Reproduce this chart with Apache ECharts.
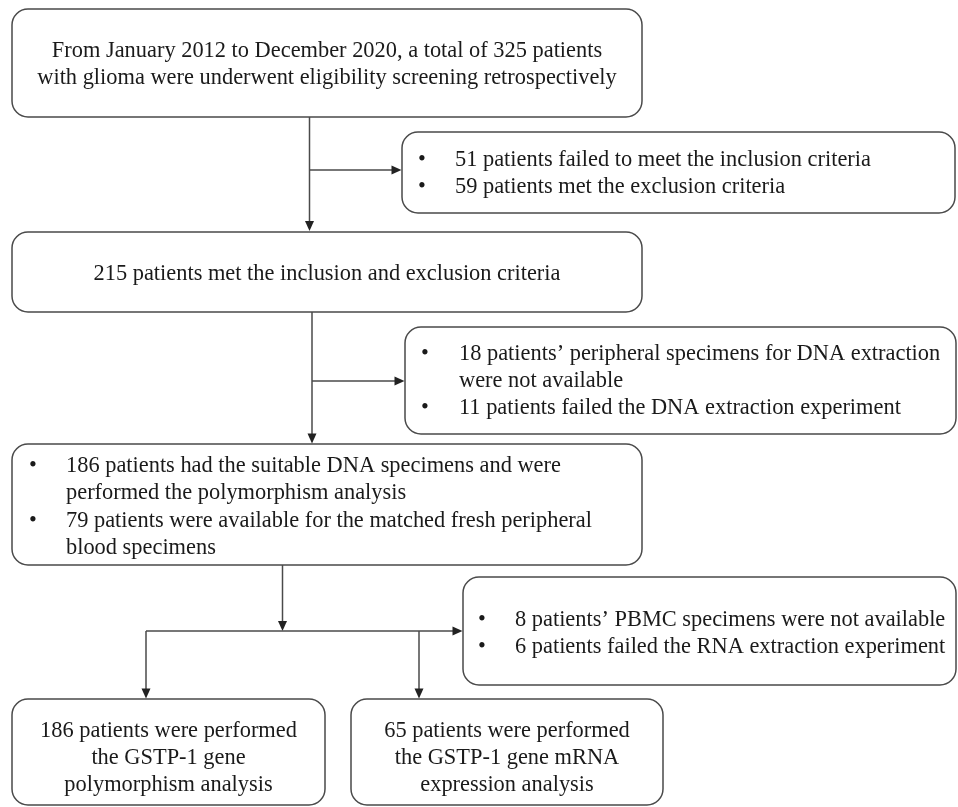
<!DOCTYPE html>
<html>
<head>
<meta charset="utf-8">
<script src="https://cdn.jsdelivr.net/npm/echarts@6/dist/echarts.min.js"></script>
<style>
html,body{margin:0;padding:0;background:#fff;}
#chart{width:958px;height:807px;}
</style>
</head>
<body>
<div id="chart"></div>
<script>
// ---- text content (data) ----
var screeningLines = [
  'From January 2012 to December 2020, a total of 325 patients',
  'with glioma were underwent eligibility screening retrospectively'
];
var exclusion1Bullets = [
  ['51 patients failed to meet the inclusion criteria'],
  ['59 patients met the exclusion criteria']
];
var eligibleLines = ['215 patients met the inclusion and exclusion criteria'];
var exclusion2Bullets = [
  ['18 patients\u2019 peripheral specimens for DNA extraction', 'were not available'],
  ['11 patients failed the DNA extraction experiment']
];
var dnaBullets = [
  ['186 patients had the suitable DNA specimens and were', 'performed the polymorphism analysis'],
  ['79 patients were available for the matched fresh peripheral', 'blood specimens']
];
var exclusion3Bullets = [
  ['8 patients\u2019 PBMC specimens were not available'],
  ['6 patients failed the RNA extraction experiment']
];
var polyLines = ['186 patients were performed', 'the GSTP-1 gene', 'polymorphism analysis'];
var mrnaLines = ['65 patients were performed', 'the GSTP-1 gene mRNA', 'expression analysis'];

// ---- layout ----
var FONT = '22.4px "Liberation Serif", "Times New Roman", serif';
var TEXT_COLOR = '#1a1a1a';
var LINE_COLOR = '#4a4a4a';
var LW = 1.5;
var R = 16;
var LINE_H = 27;

var els = [];

function box(x0, y0, x1, y1) {
  els.push({
    type: 'rect',
    shape: {x: x0, y: y0, width: x1 - x0, height: y1 - y0, r: R},
    style: {fill: '#fff', stroke: LINE_COLOR, lineWidth: LW},
    z: 1
  });
}
function txt(s, x, y, align) {
  els.push({
    type: 'text',
    x: x, y: y,
    style: {
      text: s, font: FONT, fill: TEXT_COLOR,
      align: align || 'left', verticalAlign: 'middle',
      textAlign: align || 'left', textVerticalAlign: 'middle'
    },
    z: 3
  });
}
function centered(lines, cx, y0) {
  lines.forEach(function (s, i) { txt(s, cx, y0 + i * LINE_H, 'center'); });
}
function bullets(groups, bx, tx, y0, step) {
  var y = y0;
  groups.forEach(function (g) {
    txt('\u2022', bx, y, 'center');
    g.forEach(function (s) { txt(s, tx, y, 'left'); y += step; });
  });
}
function seg(x1, y1, x2, y2) {
  els.push({
    type: 'line',
    shape: {x1: x1, y1: y1, x2: x2, y2: y2},
    style: {stroke: LINE_COLOR, lineWidth: LW},
    z: 2
  });
}
function arrowDown(x, tipY) {
  els.push({
    type: 'polygon',
    shape: {points: [[x - 4.5, tipY - 10], [x + 4.5, tipY - 10], [x, tipY]]},
    style: {fill: '#222'},
    z: 2
  });
}
function arrowRight(tipX, y) {
  els.push({
    type: 'polygon',
    shape: {points: [[tipX - 10, y - 4.5], [tipX - 10, y + 4.5], [tipX, y]]},
    style: {fill: '#222'},
    z: 2
  });
}

// boxes
box(12, 9, 642, 117);     // screening
box(402, 132, 955, 213);  // exclusion 1
box(12, 232, 642, 312);   // eligible
box(405, 327, 956, 434);  // exclusion 2
box(12, 444, 642, 565);   // DNA
box(463, 577, 956, 685);  // exclusion 3
box(12, 699, 325, 805);   // polymorphism
box(351, 699, 663, 805);  // mRNA

// connectors
seg(309.5, 117, 309.5, 228); arrowDown(309.5, 231);
seg(309.5, 170, 392, 170); arrowRight(401.5, 170);
seg(312, 312, 312, 434); arrowDown(312, 443.5);
seg(312, 381, 395, 381); arrowRight(404.5, 381);
seg(282.5, 565, 282.5, 622); arrowDown(282.5, 631);
seg(146, 631, 453, 631); arrowRight(462.5, 631);
seg(146, 631, 146, 690); arrowDown(146, 698.5);
seg(419, 631, 419, 690); arrowDown(419, 698.5);

// texts
centered(screeningLines, 327, 51.5);
bullets(exclusion1Bullets, 422, 455, 160.5, LINE_H);
centered(eligibleLines, 327, 274.5);
bullets(exclusion2Bullets, 425, 459, 354.5, LINE_H);
bullets(dnaBullets, 33, 66, 466, 27.4);
bullets(exclusion3Bullets, 482, 515, 620.5, LINE_H);
centered(polyLines, 168.5, 731);
centered(mrnaLines, 507, 731.5);

var chart = echarts.init(document.getElementById('chart'), null, {renderer: 'canvas'});
chart.setOption({
  animation: false,
  backgroundColor: '#fff',
  graphic: {elements: els}
});
</script>
</body>
</html>
